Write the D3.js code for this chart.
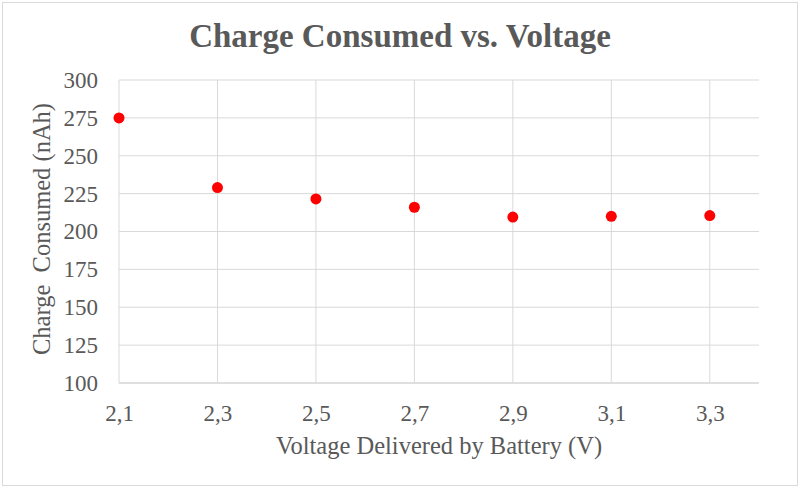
<!DOCTYPE html>
<html>
<head>
<meta charset="utf-8">
<script src="https://cdn.jsdelivr.net/npm/d3@7"></script>
<style>
  html, body { margin: 0; padding: 0; background: #fff; }
  svg text { font-family: "Liberation Serif", "Times New Roman", serif; fill: #595959; }
</style>
</head>
<body>
<svg id="chart" width="800" height="488"></svg>
<script>
// Data
var voltages = [2.1, 2.3, 2.5, 2.7, 2.9, 3.1, 3.3];
var charge = [275, 229, 221.5, 216, 209.5, 210, 210.5];
var xTicks = [2.1, 2.3, 2.5, 2.7, 2.9, 3.1, 3.3];
var yTicks = [100, 125, 150, 175, 200, 225, 250, 275, 300];

var width = 800, height = 488;
var m = {left: 119, right: 41, top: 80, bottom: 105};

var svg = d3.select("#chart");

// outer frame
svg.append("rect")
    .attr("x", 2.5).attr("y", 2.5)
    .attr("width", width - 5).attr("height", height - 5)
    .attr("fill", "#fff")
    .attr("stroke", "#d9d9d9");

var x = d3.scaleLinear().domain([2.1, 3.4]).range([m.left, width - m.right]);
var y = d3.scaleLinear().domain([100, 300]).range([height - m.bottom, m.top]);

// horizontal gridlines
svg.append("g")
    .selectAll("line")
    .data(yTicks)
    .enter().append("line")
    .attr("x1", x(2.1)).attr("x2", x(3.4))
    .attr("y1", function (d) { return y(d); })
    .attr("y2", function (d) { return y(d); })
    .attr("stroke", function (d) { return d == 100 ? "#bfbfbf" : "#d9d9d9"; })
    .attr("stroke-width", 1);

// vertical gridlines
svg.append("g")
    .selectAll("line")
    .data(xTicks)
    .enter().append("line")
    .attr("x1", function (d) { return x(d); })
    .attr("x2", function (d) { return x(d); })
    .attr("y1", y(300)).attr("y2", y(100))
    .attr("stroke", "#d9d9d9")
    .attr("stroke-width", 1);

// axes (labels only, lines drawn as grid above)
var fmt = function (d) { return d3.format(".1f")(d).replace(".", ","); };

var xAxis = svg.append("g")
    .attr("transform", "translate(0," + (y(100) + 38) + ")")
    .call(d3.axisBottom(x).tickValues(xTicks).tickFormat(fmt).tickSize(0));
xAxis.select(".domain").remove();
xAxis.selectAll("text").style("font-size", "23px").attr("y", 0).attr("dy", 0);

var yAxis = svg.append("g")
    .attr("transform", "translate(" + (x(2.1) - 21) + ",0)")
    .call(d3.axisLeft(y).tickValues(yTicks).tickSize(0));
yAxis.select(".domain").remove();
yAxis.selectAll("text").style("font-size", "23px").attr("x", 0);

// points
svg.append("g")
    .selectAll("circle")
    .data(voltages)
    .enter().append("circle")
    .attr("cx", function (d) { return x(d); })
    .attr("cy", function (d, i) { return y(charge[i]); })
    .attr("r", 5.5)
    .attr("fill", "#ff0000");

// titles
svg.append("text")
    .attr("x", 400).attr("y", 47)
    .attr("text-anchor", "middle")
    .style("font-size", "33px")
    .style("font-weight", "bold")
    .text("Charge Consumed vs. Voltage");

svg.append("text")
    .attr("x", (x(2.1) + x(3.4)) / 2).attr("y", 454)
    .attr("text-anchor", "middle")
    .style("font-size", "24.5px")
    .text("Voltage Delivered by Battery (V)");

svg.append("text")
    .attr("transform", "translate(50,229) rotate(-90)")
    .attr("text-anchor", "middle")
    .style("font-size", "24.5px")
    .style("white-space", "pre")
    .text("Charge  Consumed (nAh)");
</script>
</body>
</html>
